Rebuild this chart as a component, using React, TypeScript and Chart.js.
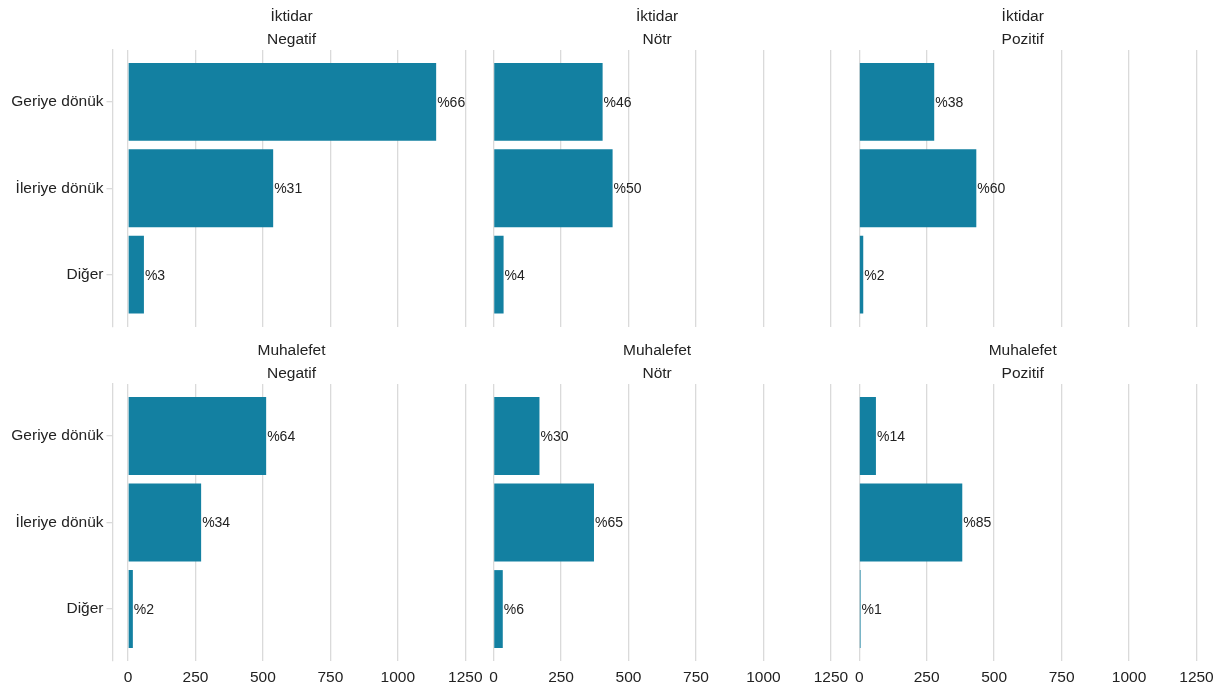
import React, { useEffect, useRef } from "react";
import { Chart, registerables } from "chart.js";

Chart.register(...registerables);

// ---- data ----
const categories = ["Geriye dönük", "İleriye dönük", "Diğer"];
const groups = ["İktidar", "Muhalefet"];
const tones = ["Negatif", "Nötr", "Pozitif"];
const xTicks = [0, 250, 500, 750, 1000, 1250];

const iktidarNegatif = [1142, 538, 59];
const iktidarNotr = [404, 441, 37];
const iktidarPozitif = [278, 434, 15];
const muhalefetNegatif = [512, 271, 18];
const muhalefetNotr = [170, 372, 34];
const muhalefetPozitif = [62, 382, 5];

const iktidarNegatifPct = ["%66", "%31", "%3"];
const iktidarNotrPct = ["%46", "%50", "%4"];
const iktidarPozitifPct = ["%38", "%60", "%2"];
const muhalefetNegatifPct = ["%64", "%34", "%2"];
const muhalefetNotrPct = ["%30", "%65", "%6"];
const muhalefetPozitifPct = ["%14", "%85", "%1"];

const panelValues = [
  [iktidarNegatif, iktidarNotr, iktidarPozitif],
  [muhalefetNegatif, muhalefetNotr, muhalefetPozitif],
];
const panelLabels = [
  [iktidarNegatifPct, iktidarNotrPct, iktidarPozitifPct],
  [muhalefetNegatifPct, muhalefetNotrPct, muhalefetPozitifPct],
];

// ---- layout / style ----
const W = 1215;
const H = 688;
const FONT = "'Liberation Sans', Arial, Helvetica, sans-serif";
const TEXT = "#222222";
const GRID = "#dadada";
const BAR = "#1380A1";
const PANEL_LEFT0 = 112.5;
const COL_STEP = 365.6;
const PANEL_W = 358;
const ROW_TOP = [50, 384];
const ROW_BOTTOM = [326.5, 661];
const X_AXIS_H = 27;
const PX_PER_UNIT = 337.3 / 1250;
const X_MIN = -15.5 / PX_PER_UNIT;
const X_MAX = X_MIN + PANEL_W / PX_PER_UNIT;

function makeConfig(row: number, col: number) {
  const isLeft = col === 0;
  const isBottom = row === 1;
  const left = PANEL_LEFT0 + col * COL_STEP;
  const right = left + PANEL_W;
  const top = ROW_TOP[row];
  const bottom = ROW_BOTTOM[row];
  const values = panelValues[row][col];
  const labels = panelLabels[row][col];

  const barLabelPlugin = {
    id: "barLabels" + row + col,
    afterDatasetsDraw(chart: any) {
      const ctx = chart.ctx;
      const meta = chart.getDatasetMeta(0);
      ctx.save();
      ctx.font = `14px ${FONT}`;
      ctx.fillStyle = TEXT;
      ctx.textAlign = "left";
      ctx.textBaseline = "middle";
      meta.data.forEach((el: any, i: number) => {
        ctx.fillText(labels[i], el.x + 1, el.y + 1);
      });
      ctx.restore();
    },
  };

  const stripPlugin = {
    id: "strip" + row + col,
    afterDraw(chart: any) {
      const ctx = chart.ctx;
      const a = chart.chartArea;
      const cx = (a.left + a.right) / 2;
      ctx.save();
      ctx.font = `15.5px ${FONT}`;
      ctx.fillStyle = TEXT;
      ctx.textAlign = "center";
      ctx.textBaseline = "alphabetic";
      ctx.fillText(groups[row], cx, a.top - 29);
      ctx.fillText(tones[col], cx, a.top - 6);
      ctx.restore();
    },
  };

  return {
    type: "bar",
    data: {
      datasets: [
        {
          data: values.map((v, i) => ({ x: v, y: i })),
          backgroundColor: BAR,
          borderWidth: 0,
          categoryPercentage: 1,
          barPercentage: 0.9,
        },
      ],
    },
    options: {
      indexAxis: "y",
      responsive: false,
      animation: false,
      events: [],
      layout: {
        autoPadding: false,
        padding: {
          left: isLeft ? 0 : left,
          right: W - right,
          top: top,
          bottom: H - bottom - (isBottom ? X_AXIS_H : 0),
        },
      },
      plugins: {
        legend: { display: false },
        tooltip: { enabled: false },
        title: { display: false },
      },
      scales: {
        x: {
          type: "linear",
          position: "bottom",
          min: X_MIN,
          max: X_MAX,
          offset: false,
          afterBuildTicks: (s: any) => {
            s.ticks = xTicks.map((v) => ({ value: v }));
          },
          afterFit: (s: any) => {
            s.height = isBottom ? X_AXIS_H : 0;
            s.paddingLeft = 0;
            s.paddingRight = 0;
          },
          grid: { color: GRID, lineWidth: 1.3, drawTicks: false, offset: false },
          border: { display: false },
          ticks: {
            display: isBottom,
            padding: 7,
            color: TEXT,
            font: { family: FONT, size: 15.5 },
            autoSkip: false,
            maxRotation: 0,
            callback: (v: any) => String(v),
          },
        },
        y: {
          type: "linear",
          reverse: true,
          min: -0.6,
          max: 2.6,
          offset: false,
          bounds: "data",
          afterBuildTicks: (s: any) => {
            s.ticks = categories.map((_, i) => ({ value: i }));
          },
          afterFit: (s: any) => {
            s.width = isLeft ? left : 0;
            s.paddingTop = 0;
            s.paddingBottom = 0;
          },
          grid: {
            drawOnChartArea: false,
            drawTicks: isLeft,
            tickLength: 6,
            color: GRID,
            lineWidth: 1.3,
            offset: false,
          },
          border: { display: isLeft, color: GRID, width: 1.3 },
          ticks: {
            display: isLeft,
            padding: 3,
            color: TEXT,
            font: { family: FONT, size: 15.5 },
            callback: (v: any) => categories[v as number] ?? "",
          },
        },
      },
    },
    plugins: [barLabelPlugin, stripPlugin],
  } as any;
}

function Panel({ row, col }: { row: number; col: number }) {
  const ref = useRef<HTMLCanvasElement | null>(null);
  useEffect(() => {
    if (!ref.current) return;
    const chart = new Chart(ref.current, makeConfig(row, col));
    return () => chart.destroy();
  }, [row, col]);
  return (
    <canvas
      ref={ref}
      width={W}
      height={H}
      style={{ position: "absolute", left: 0, top: 0, width: W, height: H }}
    />
  );
}

export default function App() {
  const panels: Array<[number, number]> = [];
  for (let r = 0; r < 2; r++) for (let c = 0; c < 3; c++) panels.push([r, c]);
  return (
    <div
      style={{
        position: "absolute",
        left: 0,
        top: 0,
        width: W,
        height: H,
        background: "#ffffff",
        overflow: "hidden",
      }}
    >
      {panels.map(([r, c]) => (
        <Panel key={`${r}-${c}`} row={r} col={c} />
      ))}
    </div>
  );
}
